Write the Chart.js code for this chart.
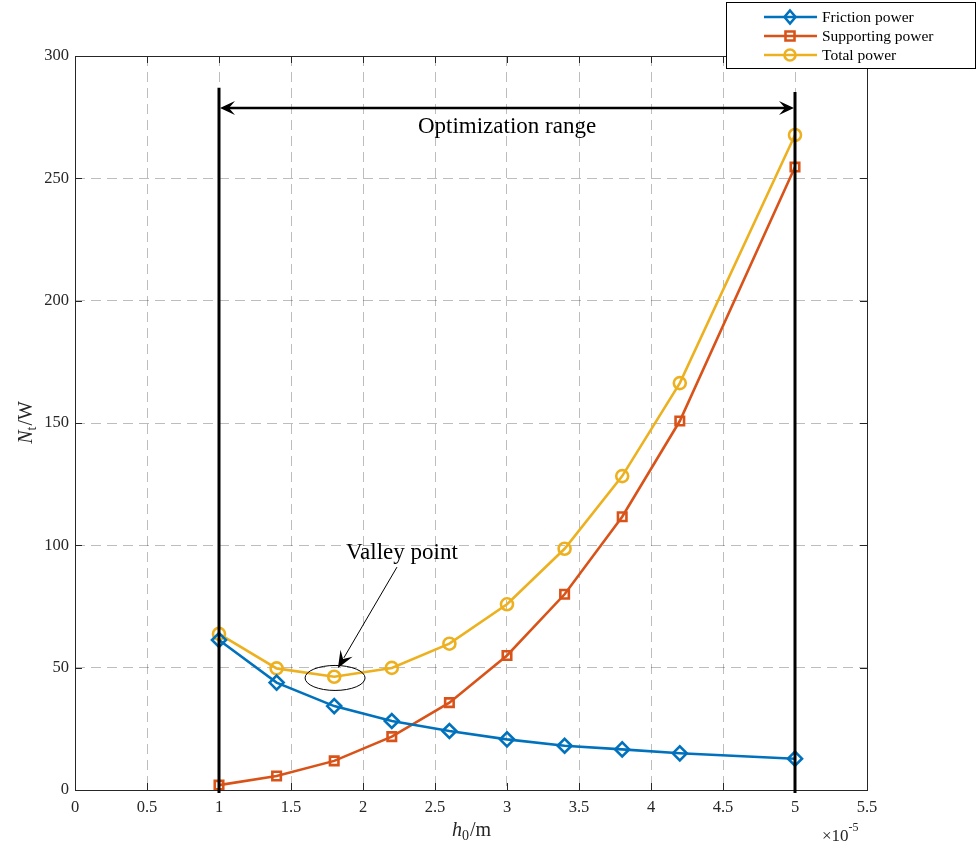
<!DOCTYPE html>
<html>
<head>
<meta charset="utf-8">
<script src="https://cdn.jsdelivr.net/npm/chart.js@4/dist/chart.umd.min.js"></script>
<style>
  html, body { margin: 0; padding: 0; background: #fff; }
  #wrap { width: 976px; height: 849px; position: relative; }
</style>
</head>
<body>
<div id="wrap"><canvas id="c" width="976" height="849"></canvas></div>
<script>
// Film thickness h0 (in units of 1e-5 m)
const h0 = [1.0, 1.4, 1.8, 2.2, 2.6, 3.0, 3.4, 3.8, 4.2, 5.0];
// Power components (W)
const frictionPower   = [61.3, 43.9, 34.3, 28.2, 24.1, 20.7, 18.1, 16.6, 15.0, 12.8];
const supportingPower = [2.0, 5.7, 11.9, 21.8, 35.7, 55.0, 80.0, 111.7, 150.8, 254.6];
const totalPower      = [63.8, 49.7, 46.3, 49.9, 59.8, 75.9, 98.6, 128.3, 166.3, 267.7];
const seriesNames = ['Friction power', 'Supporting power', 'Total power'];

// Tick positions
const xTicks = [0, 0.5, 1, 1.5, 2, 2.5, 3, 3.5, 4, 4.5, 5, 5.5];
const yTicks = [0, 50, 100, 150, 200, 250, 300];

// Annotation anchors (data units)
const rangeStart = 1.0, rangeEnd = 5.0;
const rangeTopStart = 287, rangeTopEnd = 285.3, rangeArrowY = 278.7;
const rangeLabel = 'Optimization range';
const valleyLabel = 'Valley point';
const valleyLabelPos = { x: 2.27, y: 96.9 };
const valleyArrowFrom = { x: 2.236, y: 91.1 };
const valleyArrowTo = { x: 1.826, y: 49.9 };
const valleyEllipse = { x: 1.806, y: 45.8 };

const BLUE = '#0072BD', ORANGE = '#D95319', YELLOW = '#EDB120';
const SERIF = '"Liberation Serif", "Times New Roman", serif';
const AXIS = '#262626';

const toPts = (ys) => ys.map((y, i) => ({ x: h0[i], y }));

// barbed, filled arrow head pointing from (x1,y1) toward (x2,y2)
function arrowHead(ctx, x1, y1, x2, y2, len, half) {
  const a = Math.atan2(y2 - y1, x2 - x1);
  const c = Math.cos(a), s = Math.sin(a);
  ctx.beginPath();
  ctx.moveTo(x2, y2);
  ctx.lineTo(x2 - len * c + half * s, y2 - len * s - half * c);
  ctx.lineTo(x2 - len * 0.6 * c, y2 - len * 0.6 * s);
  ctx.lineTo(x2 - len * c - half * s, y2 - len * s + half * c);
  ctx.closePath();
  ctx.fill();
}

const decorations = {
  id: 'decorations',
  beforeDatasetsDraw(chart) {
    const { ctx, chartArea: a, scales: { x, y } } = chart;
    ctx.save();
    // inward tick marks
    ctx.strokeStyle = AXIS;
    ctx.lineWidth = 1;
    ctx.beginPath();
    xTicks.forEach(v => {
      const px = Math.round(x.getPixelForValue(v)) + 0.5;
      ctx.moveTo(px, a.bottom); ctx.lineTo(px, a.bottom - 7);
      ctx.moveTo(px, a.top); ctx.lineTo(px, a.top + 7);
    });
    yTicks.forEach(v => {
      const py = Math.round(y.getPixelForValue(v)) + 0.5;
      ctx.moveTo(a.left, py); ctx.lineTo(a.left + 7, py);
      ctx.moveTo(a.right, py); ctx.lineTo(a.right - 7, py);
    });
    ctx.stroke();
    // axes box
    ctx.strokeRect(Math.round(a.left) + 0.5, Math.round(a.top) + 0.5,
                   Math.round(a.right - a.left), Math.round(a.bottom - a.top));
    ctx.restore();
  },
  afterDatasetsDraw(chart) {
    const { ctx, chartArea: a, scales: { x, y } } = chart;
    ctx.save();
    const xs = x.getPixelForValue(rangeStart), xe = x.getPixelForValue(rangeEnd);
    const y0 = y.getPixelForValue(0) + 3;
    // range boundary lines
    ctx.strokeStyle = '#000';
    ctx.fillStyle = '#000';
    ctx.lineWidth = 3;
    ctx.beginPath();
    ctx.moveTo(xs, y.getPixelForValue(rangeTopStart)); ctx.lineTo(xs, y0);
    ctx.moveTo(xe, y.getPixelForValue(rangeTopEnd)); ctx.lineTo(xe, y0);
    ctx.stroke();
    // double arrow
    const ay = y.getPixelForValue(rangeArrowY);
    ctx.lineWidth = 2.5;
    ctx.beginPath();
    ctx.moveTo(xs + 8, ay); ctx.lineTo(xe - 8, ay);
    ctx.stroke();
    arrowHead(ctx, xe, ay, xs + 1, ay, 15, 7);
    arrowHead(ctx, xs, ay, xe - 1, ay, 15, 7);
    // range label
    ctx.font = '23px ' + SERIF;
    ctx.textAlign = 'center';
    ctx.textBaseline = 'middle';
    ctx.fillText(rangeLabel, (xs + xe) / 2, ay + 19);
    // valley annotation
    ctx.fillText(valleyLabel, x.getPixelForValue(valleyLabelPos.x), y.getPixelForValue(valleyLabelPos.y));
    const fx = x.getPixelForValue(valleyArrowFrom.x), fy = y.getPixelForValue(valleyArrowFrom.y);
    const tx = x.getPixelForValue(valleyArrowTo.x), ty = y.getPixelForValue(valleyArrowTo.y);
    ctx.lineWidth = 1;
    ctx.beginPath();
    ctx.moveTo(fx, fy); ctx.lineTo(tx + (fx - tx) * 0.1, ty + (fy - ty) * 0.1);
    ctx.stroke();
    arrowHead(ctx, fx, fy, tx, ty, 17, 7);
    ctx.beginPath();
    ctx.ellipse(x.getPixelForValue(valleyEllipse.x), y.getPixelForValue(valleyEllipse.y), 30, 12.5, 0, 0, Math.PI * 2);
    ctx.stroke();

    // axis titles
    ctx.fillStyle = AXIS;
    ctx.textBaseline = 'alphabetic';
    // x title: h_0 / m
    const xc = (a.left + a.right) / 2;
    const xb = 836;
    ctx.font = 'italic 20px ' + SERIF;
    const wh = ctx.measureText('h').width;
    ctx.font = '14px ' + SERIF;
    const w0 = ctx.measureText('0').width;
    ctx.font = '20px ' + SERIF;
    const wm = ctx.measureText('/m').width;
    let cx = xc - (wh + w0 + wm) / 2;
    ctx.textAlign = 'left';
    ctx.font = 'italic 20px ' + SERIF; ctx.fillText('h', cx, xb); cx += wh;
    ctx.font = '14px ' + SERIF; ctx.fillText('0', cx, xb + 4); cx += w0 + 1;
    ctx.font = '20px ' + SERIF; ctx.fillText('/m', cx, xb);
    // y title: N_t / W
    ctx.save();
    ctx.translate(32, (a.top + a.bottom) / 2);
    ctx.rotate(-Math.PI / 2);
    ctx.font = 'italic 20px ' + SERIF;
    const wN = ctx.measureText('N').width;
    ctx.font = '14px ' + SERIF;
    const wt = ctx.measureText('t').width;
    ctx.font = '20px ' + SERIF;
    const wW = ctx.measureText('/W').width;
    let cy = -(wN + wt + wW) / 2;
    ctx.font = 'italic 20px ' + SERIF; ctx.fillText('N', cy, 0); cy += wN;
    ctx.font = '14px ' + SERIF; ctx.fillText('t', cy, 4); cy += wt + 1;
    ctx.font = '20px ' + SERIF; ctx.fillText('/W', cy, 0);
    ctx.restore();
    // exponent label
    ctx.font = '17px ' + SERIF;
    const wx = ctx.measureText('\u00d710').width;
    ctx.fillText('\u00d710', 822, 841);
    ctx.font = '12px ' + SERIF;
    ctx.fillText('-5', 822 + wx, 831);

    // legend
    const lx = 726.5, ly = 2.5, lw = 249, lh = 66;
    ctx.fillStyle = '#fff';
    ctx.fillRect(lx, ly, lw, lh);
    ctx.strokeStyle = '#000';
    ctx.lineWidth = 1;
    ctx.strokeRect(lx, ly, lw, lh);
    chart.data.datasets.forEach((ds, i) => {
      const ry = 17 + i * 19;
      ctx.strokeStyle = ds.borderColor;
      ctx.lineWidth = 2.6;
      ctx.beginPath(); ctx.moveTo(764, ry); ctx.lineTo(817, ry); ctx.stroke();
      ctx.beginPath();
      if (ds.pointStyle === 'rectRot') {
        ctx.moveTo(790, ry - 6.5); ctx.lineTo(795.5, ry); ctx.lineTo(790, ry + 6.5); ctx.lineTo(784.5, ry); ctx.closePath();
      } else if (ds.pointStyle === 'rect') {
        ctx.rect(785.5, ry - 4.5, 9, 9);
      } else {
        ctx.arc(790, ry, 5.5, 0, Math.PI * 2);
      }
      ctx.stroke();
      ctx.fillStyle = '#000';
      ctx.font = '15.5px ' + SERIF;
      ctx.textAlign = 'left';
      ctx.textBaseline = 'middle';
      ctx.fillText(ds.label, 822, ry + 1);
    });
    ctx.restore();
  }
};

const common = {
  borderWidth: 2.6,
  pointBorderWidth: 2.6,
  pointBackgroundColor: 'rgba(0,0,0,0)',
  tension: 0,
  fill: false
};

new Chart(document.getElementById('c'), {
  type: 'line',
  data: {
    datasets: [
      { ...common, label: seriesNames[0], data: toPts(frictionPower), borderColor: BLUE,
        pointBorderColor: BLUE, pointStyle: 'rectRot', pointRadius: 7 },
      { ...common, label: seriesNames[1], data: toPts(supportingPower), borderColor: ORANGE,
        pointBorderColor: ORANGE, pointStyle: 'rect', pointRadius: 6 },
      { ...common, label: seriesNames[2], data: toPts(totalPower), borderColor: YELLOW,
        pointBorderColor: YELLOW, pointStyle: 'circle', pointRadius: 6 }
    ]
  },
  options: {
    responsive: false,
    animation: false,
    events: [],
    layout: { padding: { top: 56, right: 109, left: 0, bottom: 0 } },
    plugins: { legend: { display: false }, tooltip: { enabled: false } },
    scales: {
      x: {
        type: 'linear', min: 0, max: 5.5,
        afterFit(s) { s.height = 59; },
        afterBuildTicks(s) { s.ticks = xTicks.map(v => ({ value: v })); },
        grid: { color: 'rgba(0,0,0,0.26)', lineWidth: 1, drawTicks: false },
        border: { display: false, dash: [10, 6] },
        ticks: { color: AXIS, padding: 8, font: { family: SERIF, size: 16.5 },
                 maxRotation: 0, autoSkip: false, callback: v => String(v) }
      },
      y: {
        type: 'linear', min: 0, max: 300,
        afterFit(s) { s.width = 75; },
        afterBuildTicks(s) { s.ticks = yTicks.map(v => ({ value: v })); },
        grid: { color: 'rgba(0,0,0,0.26)', lineWidth: 1, drawTicks: false },
        border: { display: false, dash: [10, 6] },
        ticks: { color: AXIS, padding: 6, font: { family: SERIF, size: 16.5 },
                 autoSkip: false, callback: v => String(v) }
      }
    }
  },
  plugins: [decorations]
});
</script>
</body>
</html>
